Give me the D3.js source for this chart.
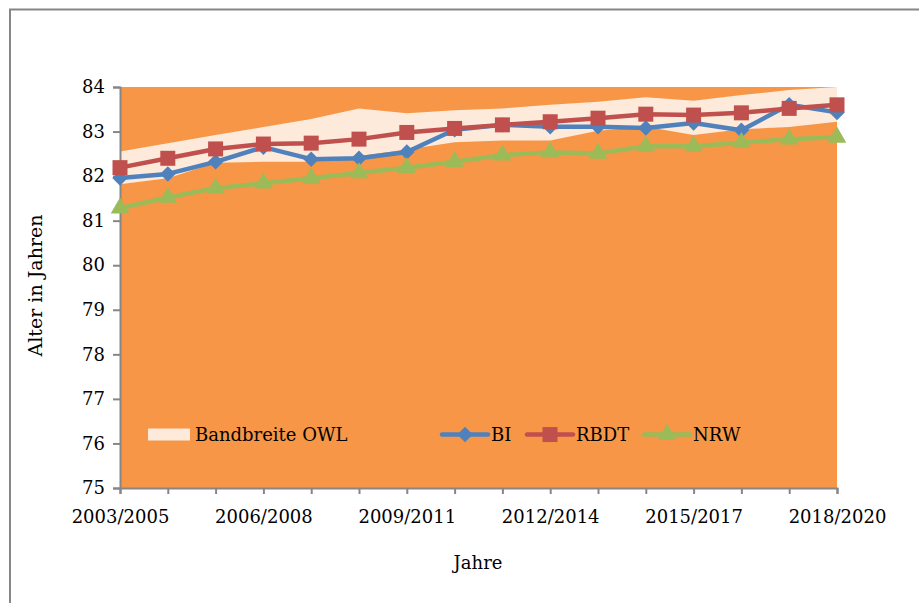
<!DOCTYPE html>
<html>
<head>
<meta charset="utf-8">
<script src="https://cdn.jsdelivr.net/npm/d3@7"></script>
<style>
  body { margin: 0; background: #fff; }
  text { font-family: "DejaVu Serif", serif; fill: #000; }
</style>
</head>
<body>
<div id="chart"></div>
<script>
// data
var years = ["2003/2005", "2004/2006", "2005/2007", "2006/2008", "2007/2009", "2008/2010",
  "2009/2011", "2010/2012", "2011/2013", "2012/2014", "2013/2015", "2014/2016",
  "2015/2017", "2016/2018", "2017/2019", "2018/2020"];
var owl_min = [81.82, 81.95, 82.3, 82.32, 82.32, 82.45, 82.6, 82.76, 82.8, 82.8, 83.02, 83.11, 82.92, 83.05, 83.1, 83.22];
var owl_max = [82.55, 82.74, 82.92, 83.1, 83.28, 83.52, 83.41, 83.48, 83.52, 83.6, 83.67, 83.77, 83.69, 83.82, 83.93, 84.0];
var bi   = [81.96, 82.05, 82.32, 82.65, 82.38, 82.4, 82.54, 83.04, 83.15, 83.11, 83.11, 83.08, 83.19, 83.03, 83.6, 83.43];
var rbdt = [82.19, 82.4, 82.61, 82.72, 82.74, 82.83, 82.98, 83.07, 83.15, 83.22, 83.3, 83.39, 83.37, 83.42, 83.52, 83.6];
var nrw  = [81.28, 81.52, 81.73, 81.84, 81.95, 82.07, 82.19, 82.32, 82.47, 82.53, 82.51, 82.67, 82.67, 82.75, 82.83, 82.87];
var y_ticks = [75, 76, 77, 78, 79, 80, 81, 82, 83, 84];
var x_labels = ["2003/2005", "2006/2008", "2009/2011", "2012/2014", "2015/2017", "2018/2020"];

var W = 919, H = 603;
var margin = {top: 87, right: 82, bottom: 115, left: 120};
var width = W - margin.left - margin.right;
var height = H - margin.top - margin.bottom;
var fs = 18;

var svg = d3.select("#chart").append("svg")
  .attr("width", W).attr("height", H);

// outer frame
svg.append("rect")
  .attr("x", 10).attr("y", 9.5).attr("width", W + 20).attr("height", H + 20)
  .attr("fill", "none").attr("stroke", "#868686").attr("stroke-width", 2);

var g = svg.append("g")
  .attr("transform", "translate(" + margin.left + "," + margin.top + ")");

var x = d3.scalePoint().domain(years).range([0, width]);
var y = d3.scaleLinear().domain([75, 84]).range([height, 0]);

// plot area
g.append("rect")
  .attr("width", width).attr("height", height)
  .attr("fill", "#F79646");

// band OWL
var band = d3.area()
  .x(function(d, i) { return x(years[i]); })
  .y0(function(d, i) { return y(owl_min[i]); })
  .y1(function(d, i) { return y(owl_max[i]); });
g.append("path")
  .datum(owl_min)
  .attr("d", band)
  .attr("fill", "#FDEADA");

// axes
var yAxis = g.append("g")
  .call(d3.axisLeft(y).tickValues(y_ticks).tickSize(7).tickPadding(8).tickFormat(d3.format("d")));
var xAxis = g.append("g")
  .attr("transform", "translate(0," + height + ")")
  .call(d3.axisBottom(x).tickSize(6).tickPadding(16)
    .tickFormat(function(d) { return x_labels.indexOf(d) >= 0 ? d : ""; }));
[yAxis, xAxis].forEach(function(a) {
  a.select(".domain").attr("stroke", "#868686").attr("stroke-width", 2);
  a.selectAll(".tick line").attr("stroke", "#868686").attr("stroke-width", 2);
  a.selectAll("text").attr("font-size", fs).attr("font-family", "DejaVu Serif").attr("fill", "#000");
});

// series
var series = [
  {name: "BI", values: bi, color: "#4F81BD", shape: d3.symbolSquare, size: 120, rot: 45},
  {name: "RBDT", values: rbdt, color: "#C0504D", shape: d3.symbolSquare, size: 225, rot: 0},
  {name: "NRW", values: nrw, color: "#9BBB59", shape: d3.symbolTriangle, size: 150, rot: 0}
];
var line = d3.line()
  .x(function(d, i) { return x(years[i]); })
  .y(function(d) { return y(d); });

series.forEach(function(s) {
  g.append("path")
    .datum(s.values)
    .attr("d", line)
    .attr("fill", "none")
    .attr("stroke", s.color)
    .attr("stroke-width", 4.5)
    .attr("stroke-linejoin", "round");
  g.selectAll(".m-" + s.name)
    .data(s.values)
    .enter()
    .append("path")
    .attr("d", d3.symbol().type(s.shape).size(s.size))
    .attr("transform", function(d, i) {
      return "translate(" + x(years[i]) + "," + y(d) + ") rotate(" + s.rot + ")";
    })
    .attr("fill", s.color);
});

// legend
var leg = g.append("g").attr("transform", "translate(0," + (y(76.2)) + ")");
leg.append("rect")
  .attr("x", 28).attr("y", -6).attr("width", 42).attr("height", 12)
  .attr("fill", "#FDEADA");
leg.append("text").attr("x", 75).attr("y", 6).attr("font-size", fs).text("Bandbreite OWL");
var legX = [322, 407, 524];
series.forEach(function(s, k) {
  var lx = legX[k];
  leg.append("line")
    .attr("x1", lx).attr("x2", lx + 46).attr("y1", 0).attr("y2", 0)
    .attr("stroke", s.color).attr("stroke-width", 4.5).attr("stroke-linecap", "round");
  leg.append("path")
    .attr("d", d3.symbol().type(s.shape).size(s.size))
    .attr("transform", "translate(" + (lx + 23) + ",0) rotate(" + s.rot + ")")
    .attr("fill", s.color);
  leg.append("text").attr("x", lx + 49).attr("y", 6).attr("font-size", fs).text(s.name);
});

// axis titles
svg.append("text")
  .attr("transform", "translate(42," + (margin.top + height / 2 - 2) + ") rotate(-90)")
  .attr("text-anchor", "middle").attr("font-size", 19)
  .text("Alter in Jahren");
svg.append("text")
  .attr("x", 478).attr("y", 569)
  .attr("text-anchor", "middle").attr("font-size", fs)
  .text("Jahre");
</script>
</body>
</html>
